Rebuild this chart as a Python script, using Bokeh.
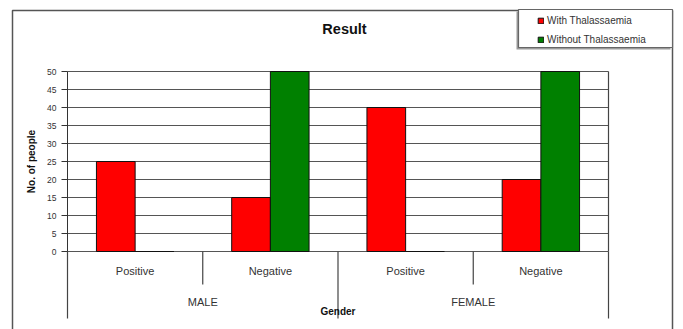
from bokeh.plotting import figure
from bokeh.models import (ColumnDataSource, Range1d, Legend, LegendItem, FixedTicker)
from bokeh.transform import dodge
from bokeh.core.properties import value
from bokeh.embed import file_html
from bokeh.resources import INLINE

# ---- data ----
genders = ["MALE", "FEMALE"]
results = ["Positive", "Negative"]
with_thal = [25, 15, 40, 20]
without_thal = [0, 50, 0, 50]
series_names = ["With Thalassaemia", "Without Thalassaemia"]
y_ticks = [0, 5, 10, 15, 20, 25, 30, 35, 40, 45, 50]

factors = [(g, r) for g in genders for r in results]
n_units = len(factors)
xpos = [i + 0.5 for i in range(n_units)]
gender_pos = [len(results) * (g + 0.5) for g in range(len(genders))]

FONT = "Liberation Sans"
W, H = 683, 329
# pixel layout of the plot area inside the canvas
X0_PX, X1_PX = 67, 608      # x = 0 and x = n_units
Y0_PX, YM_PX = 251, 71      # y = 0 and y = max tick
ppx = (X1_PX - X0_PX) / n_units
ppy = (Y0_PX - YM_PX) / y_ticks[-1]


def px_x(px):
    return (px - X0_PX) / ppx


def px_y(py):
    return (Y0_PX - py) / ppy


src = ColumnDataSource(data=dict(x=xpos, with_thal=with_thal, without_thal=without_thal))

p = figure(width=W, height=H, x_range=Range1d(px_x(0), px_x(W)),
           y_range=Range1d(px_y(H), px_y(0)),
           output_backend="svg", toolbar_location=None, x_axis_location=None,
           min_border=0)
p.background_fill_color = "white"
p.border_fill_color = "white"
p.outline_line_color = None
p.xgrid.visible = False
p.ygrid.visible = False

# y axis, drawn at x = 0
yaxis = p.yaxis[0]
yaxis.fixed_location = 0
yaxis.ticker = FixedTicker(ticks=y_ticks)
yaxis.bounds = (y_ticks[0], y_ticks[-1])
yaxis.axis_label = "No. of people"
yaxis.axis_label_text_font = FONT
yaxis.axis_label_text_font_style = "bold"
yaxis.axis_label_text_font_size = "10px"
yaxis.axis_label_text_color = "#111111"
yaxis.axis_label_standoff = 7
yaxis.major_label_text_font = FONT
yaxis.major_label_text_font_size = "8.5px"
yaxis.major_label_text_color = "#333333"
yaxis.major_label_standoff = 5
yaxis.major_tick_out = 6
yaxis.major_tick_in = 0
yaxis.minor_tick_line_color = None
yaxis.axis_line_color = "#333333"
yaxis.major_tick_line_color = "#333333"

# outer chart border
p.line(x=[px_x(12), px_x(12), px_x(672), px_x(672)],
       y=[px_y(340), px_y(10), px_y(10), px_y(340)],
       line_color="#555555", line_width=1.5)

# horizontal grid lines and right border of the plot area
p.segment(x0=[0] * len(y_ticks), y0=y_ticks, x1=[n_units] * len(y_ticks), y1=y_ticks,
          line_color="#555555", line_width=1.2)
p.segment(x0=[n_units], y0=[y_ticks[0]], x1=[n_units], y1=[y_ticks[-1]],
          line_color="#444444", line_width=1.2)

# bars
r1 = p.vbar(x=dodge("x", -0.143), top="with_thal", width=0.286, source=src,
            fill_color="#FF0000", line_color="#111111", line_width=1)
r2 = p.vbar(x=dodge("x", 0.143), top="without_thal", width=0.286, source=src,
            fill_color="#008000", line_color="#111111", line_width=1)

# category labels (two-level axis, Excel style)
p.text(x=xpos, y=[px_y(270)] * n_units, text=[f[1] for f in factors],
       text_font=value(FONT), text_font_size="11px", text_color="#333333",
       text_align="center", text_baseline="middle")
p.text(x=gender_pos, y=[px_y(301)] * len(genders), text=genders,
       text_font=value(FONT), text_font_size="11px", text_color="#333333",
       text_align="center", text_baseline="middle")

sub_sep = [g * len(results) + k for g in range(len(genders)) for k in range(1, len(results))]
grp_sep = [g * len(results) for g in range(len(genders) + 1)]
p.segment(x0=sub_sep, y0=[0] * len(sub_sep), x1=sub_sep, y1=[px_y(284)] * len(sub_sep),
          line_color="#444444", line_width=1.2)
p.segment(x0=grp_sep, y0=[0] * len(grp_sep), x1=grp_sep, y1=[px_y(318)] * len(grp_sep),
          line_color="#444444", line_width=1.2)

p.text(x=[n_units / 2], y=[px_y(311)], text=["Gender"], text_font=value(FONT),
       text_font_size="10px", text_font_style="bold", text_color="#111111",
       text_align="center", text_baseline="middle")

# title
p.text(x=[px_x(344)], y=[px_y(28)], text=["Result"], text_font=value(FONT),
       text_font_size="14.5px", text_font_style="bold", text_color="#111111",
       text_align="center", text_baseline="middle")

# legend box (with a little shadow on the left/bottom)
p.quad(left=[px_x(516)], right=[px_x(670)], top=[px_y(11)], bottom=[px_y(49)],
       fill_color="#9a9a9a", line_color=None)
p.quad(left=[px_x(518)], right=[px_x(672)], top=[px_y(9)], bottom=[px_y(47)],
       fill_color="white", line_color="#666666", line_width=1.2)

legend = Legend(items=[LegendItem(label=series_names[0], renderers=[r1]),
                       LegendItem(label=series_names[1], renderers=[r2])],
                location=(537, H - 44.5), padding=4, spacing=8,
                glyph_width=7, glyph_height=7, label_height=11, label_standoff=3,
                label_text_font=FONT, label_text_font_size="10px", label_text_color="#333333",
                background_fill_alpha=0, border_line_color=None, margin=0)
p.add_layout(legend)

open("out.html", "w").write(file_html(p, INLINE))
